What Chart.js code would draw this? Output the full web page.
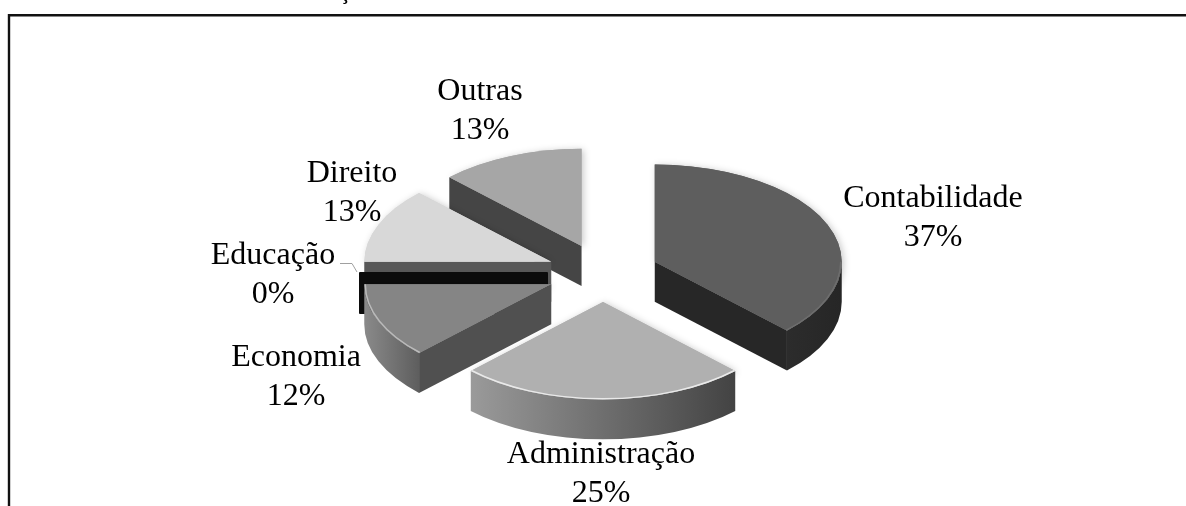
<!DOCTYPE html>
<html>
<head>
<meta charset="utf-8">
<style>html,body{margin:0;padding:0;background:#fff;overflow:hidden}#w{width:1186px;height:506px;position:relative}</style>
<script src="https://cdn.jsdelivr.net/npm/chart.js@4/dist/chart.umd.min.js"></script>
</head>
<body>
<div id="w"><canvas id="c" width="1186" height="506"></canvas></div>
<script>
const categories = ['Contabilidade','Administração','Economia','Educação','Direito','Outras'];
const shares = [37.5, 25, 12.5, 0, 12.5, 12.5];
const percentLabels = ['37%','25%','12%','0%','13%','13%'];

const topColors  = ['#5e5e5e','#b0b0b0','#858585','#0a0a0a','#d8d8d8','#a6a6a6'];
const wallColors = ['#272727','#6a6a6a','#505050','#0c0c0c','#585858','#454545'];
const wallStroke = [0,0,0,2,0,0];
const rimStops   = [['#2c2c2c','#262626'],['#9a9a9a','#434343'],['#8a8a8a','#5e5e5e'],['#0c0c0c','#0c0c0c'],['#585858','#585858'],['#454545','#454545']];
const bevelColors= ['rgba(120,120,120,.6)','rgba(240,240,240,.9)','rgba(200,200,200,.8)',null,null,null];
const drawOrder  = [5,4,3,2,0,1];
const labelCentres = [[933,199],[601,455],[296,358],[273,256],[352,174],[480,92]];
const SQUASH = 0.52, DEPTH = 40, EXPLODE = 56, LINE = 39;

function pt(e, ax, ay, canvasAngle){
  return [ax + Math.cos(canvasAngle)*e.outerRadius, ay + Math.sin(canvasAngle)*e.outerRadius*SQUASH];
}
function ell(ctx, ax, ay, r, a, b, ccw){
  ctx.ellipse(ax, ay, r, r*SQUASH, 0, a, b, !!ccw);
}
const pie3d = {
  id:'pie3d',
  beforeDatasetsDraw(chart){
    const ctx = chart.ctx, meta = chart.getDatasetMeta(0), cx0 = meta.data[0].x, cy0 = meta.data[0].y;
    // frame (open at the right and bottom, as cropped in the source)
    ctx.save();
    ctx.strokeStyle='#111'; ctx.lineWidth=2.4;
    ctx.beginPath(); ctx.moveTo(9,506); ctx.lineTo(9,15.3); ctx.lineTo(1186,15.3); ctx.stroke();
    // cedilla of a cropped caption above the frame
    ctx.fillStyle='#000'; ctx.font='bold 20px "Liberation Serif"'; ctx.textAlign='center'; ctx.textBaseline='alphabetic';
    ctx.fillText('ç',345,-1);
    ctx.restore();
    drawOrder.forEach(i=>{
      const e = meta.data[i], s = e.startAngle, t = e.endAngle, mid=(s+t)/2, r = e.outerRadius;
      const ax = cx0 + Math.cos(mid)*EXPLODE, ay = cy0 + Math.sin(mid)*EXPLODE*SQUASH;
      const P0 = pt(e,ax,ay,s), P1 = pt(e,ax,ay,t);
      ctx.save();
      ctx.filter='blur(0.6px)';
      ctx.save();
      ctx.shadowColor='rgba(0,0,0,.22)'; ctx.shadowBlur=7; ctx.shadowOffsetX=2; ctx.shadowOffsetY=1;
      ctx.fillStyle=topColors[i];
      ctx.beginPath(); ctx.moveTo(ax,ay); ell(ctx,ax,ay,r,s,t); ctx.closePath(); ctx.fill();
      ctx.restore();
      const wall = (Q)=>{
        ctx.fillStyle=wallColors[i];
        ctx.beginPath(); ctx.moveTo(ax,ay); ctx.lineTo(Q[0],Q[1]); ctx.lineTo(Q[0],Q[1]+DEPTH); ctx.lineTo(ax,ay+DEPTH); ctx.closePath(); ctx.fill();
        if(wallStroke[i]){ ctx.strokeStyle=wallColors[i]; ctx.lineWidth=wallStroke[i]; ctx.lineJoin='round'; ctx.stroke(); }
      };
      if(Math.cos(s) < -1e-6) wall(P0);
      if(Math.cos(t) > 1e-6) wall(P1);
      const a = Math.max(s,0), b = Math.min(t,Math.PI);
      if(b>a){
        const xa = ax+Math.cos(a)*r, xb = ax+Math.cos(b)*r;
        const g = ctx.createLinearGradient(Math.min(xa,xb),0,Math.max(xa,xb),0);
        g.addColorStop(0,rimStops[i][0]); g.addColorStop(1,rimStops[i][1]);
        ctx.fillStyle=g;
        ctx.beginPath(); ell(ctx,ax,ay,r,a,b); ell(ctx,ax,ay+DEPTH,r,b,a,true); ctx.closePath(); ctx.fill();
      }
      ctx.fillStyle=topColors[i];
      ctx.beginPath(); ctx.moveTo(ax,ay); ell(ctx,ax,ay,r,s,t); ctx.closePath(); ctx.fill();
      if(bevelColors[i]){
        ctx.strokeStyle=bevelColors[i]; ctx.lineWidth=1.5;
        ctx.beginPath(); ell(ctx,ax,ay,r-1,Math.max(s,0),Math.min(t,Math.PI)); ctx.stroke();
      }
      ctx.restore();
    });
    ctx.save();
    ctx.fillStyle='#000'; ctx.font='32px "Liberation Serif"'; ctx.textAlign='center'; ctx.textBaseline='middle';
    categories.forEach((n,i)=>{
      const [x,y]=labelCentres[i];
      ctx.fillText(n,x,y); ctx.fillText(percentLabels[i],x,y+LINE);
    });
    ctx.strokeStyle='#a0a0a0'; ctx.lineWidth=1;
    ctx.beginPath(); ctx.moveTo(340,263.5); ctx.lineTo(352,263.5); ctx.lineTo(357,272); ctx.stroke();
    ctx.restore();
    return false;
  }
};
new Chart(document.getElementById('c'),{
  type:'pie',
  data:{labels:categories,datasets:[{data:shares,backgroundColor:topColors,borderWidth:0,radius:187}]},
  options:{
    responsive:false,animation:false,
    layout:{padding:{left:20,right:0,top:40,bottom:0}},
    plugins:{legend:{display:false},tooltip:{enabled:false},title:{display:false}}
  },
  plugins:[pie3d]
});
</script>
</body>
</html>
